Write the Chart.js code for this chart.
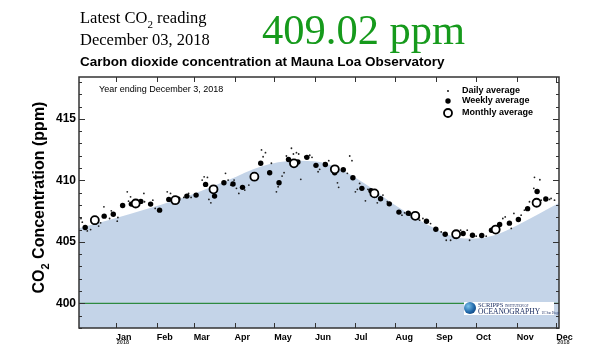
<!DOCTYPE html>
<html>
<head>
<meta charset="utf-8">
<script src="https://cdn.jsdelivr.net/npm/chart.js@4.4.1/dist/chart.umd.min.js"></script>
<style>
  html, body { margin: 0; padding: 0; background: #fff; }
  #wrap { position: relative; width: 600px; height: 360px; overflow: hidden; }
  #chart { position: absolute; left: 0; top: 0; }
  .serif { position: absolute; font-family: "Liberation Serif", "Times New Roman", serif; color: #000; white-space: nowrap; line-height: 1; }
  .serif sub { font-size: 11px; vertical-align: -5px; line-height: 0; }
  #latest { left: 80px; top: 10px; font-size: 16.5px; }
  #date { left: 80px; top: 32px; font-size: 16.5px; }
  #reading { left: 262px; top: 9px; font-size: 42.5px; color: #169a1c; }
  #title { position: absolute; left: 80px; top: 55px; font: bold 13.5px "Liberation Sans", Arial, sans-serif; line-height: 1; white-space: nowrap; }
  #logo { position: absolute; left: 464px; top: 302px; width: 90px; height: 13px; background: #fff; font-family: "Liberation Serif", serif; color: #1d2f63; white-space: nowrap; }
  #logo .globe { position: absolute; left: 0; top: 0; width: 12px; height: 12px; border-radius: 50%;
    background: radial-gradient(circle at 35% 35%, #7cc3ec, #1f66a8 55%, #0d2c5c); }
  #logo .l1 { position: absolute; left: 14px; top: 0px; font-size: 6.5px; line-height: 6px; }
  #logo .l2 { position: absolute; left: 14px; top: 6px; font-size: 7.5px; line-height: 7px; }
  #logo .tiny { font-size: 3px; }
</style>
</head>
<body>
<div id="wrap">
  <canvas id="chart" width="600" height="360"></canvas>
  <div class="serif" id="latest">Latest CO<sub>2</sub> reading</div>
  <div class="serif" id="date">December 03, 2018</div>
  <div class="serif" id="reading">409.02 ppm</div>
  <div id="title">Carbon dioxide concentration at Mauna Loa Observatory</div>
  <div id="logo">
    <div class="globe"></div>
    <div class="l1">SCRIPPS <span class="tiny">INSTITUTION OF</span></div>
    <div class="l2">OCEANOGRAPHY <span class="tiny">UC San Diego</span></div>
  </div>
</div>
<script>
// x values are days since Jan 1, 2018
const tickDays = [0, 31, 59, 90, 120, 151, 181, 212, 243, 273, 304, 334];
const monthLabels = ['Jan', 'Feb', 'Mar', 'Apr', 'May', 'Jun', 'Jul', 'Aug', 'Sep', 'Oct', 'Nov', 'Dec'];
const yearLabelDays = [0, 334];
const yTicks = [400, 405, 410, 415];
const baseline = 400;

const monthDays = [-16, 15, 45, 74, 105, 135, 166, 196, 227, 258, 288, 319];
const monthlyPpm = [406.76, 408.12, 408.39, 409.27, 410.30, 411.38, 410.90, 408.94, 407.12, 405.62, 406.00, 408.18];

const weekDays = [-23.3, -16.0, -8.9, -2.0, 5.1, 11.7, 18.9, 26.3, 33.1, 40.1, 47.0, 53.8, 60.8,
  68.0, 74.8, 81.9, 88.8, 96.0, 103.8, 109.8, 116.6, 123.7, 130.9, 138.0, 144.8, 151.7, 158.8,
  165.9, 172.4, 179.7, 186.5, 193.4, 200.7, 207.3, 214.6, 221.7, 228.3, 235.5, 242.6, 249.7,
  257.5, 263.3, 270.4, 277.4, 284.8, 291.0, 298.4, 305.2, 312.2, 319.4, 326.0];
const weeklyPpm = [406.17, 406.60, 407.09, 407.25, 407.96, 408.07, 408.29, 408.07, 407.58, 408.45, 408.48, 408.72, 408.80,
  409.67, 408.72, 409.80, 409.70, 409.43, 410.29, 411.39, 410.62, 409.80, 411.69, 411.49, 411.87, 411.22, 411.29,
  410.62, 410.86, 410.21, 409.35, 409.15, 408.50, 408.09, 407.42, 407.33, 407.01, 406.68, 406.03, 405.62,
  405.46, 405.68, 405.54, 405.52, 405.95, 406.41, 406.52, 406.82, 407.70, 409.10, 408.48];

// [day, ppm]
const dailyPoints = [
  [-26.5, 406.9], [-25.5, 406.6], [-21.7, 405.89], [-19.2, 406.0], [-13.1, 406.28], [-11.6, 406.55],
  [-9.1, 407.85], [-4.8, 406.9], [-3.5, 407.52], [1.0, 406.68], [1.5, 406.98], [4.5, 408.01],
  [8.6, 409.07], [9.6, 408.31], [11.1, 408.66], [16.1, 407.96], [21.2, 408.94], [21.7, 408.26],
  [28.0, 408.39], [29.8, 407.72], [38.9, 409.07], [41.4, 408.94], [43.2, 408.12], [51.5, 408.61],
  [55.1, 408.94], [57.0, 408.61], [65.4, 410.02], [66.9, 410.29], [69.4, 410.24], [70.5, 408.45],
  [72.0, 408.17], [83.1, 410.57], [85.1, 410.02], [87.1, 409.62], [89.6, 410.02], [91.4, 409.35],
  [93.2, 408.94], [97.7, 409.21], [100.8, 409.62], [110.4, 412.47], [111.6, 411.92], [113.4, 412.25],
  [117.9, 411.39], [121.7, 409.07], [123.0, 409.48], [126.0, 410.35], [127.5, 410.62], [129.3, 411.98],
  [133.1, 412.61], [134.6, 412.14], [136.9, 412.25], [138.6, 412.14], [140.2, 410.08], [143.2, 411.92],
  [147.0, 412.04], [148.7, 411.87], [153.3, 410.70], [154.5, 410.90], [157.8, 411.39], [161.4, 411.60],
  [168.0, 409.80], [168.9, 409.43], [175.5, 410.57], [177.3, 411.98], [179.0, 411.60], [181.6, 409.07],
  [183.1, 409.27], [184.8, 409.75], [189.2, 408.34], [191.1, 409.27], [197.4, 408.66], [198.2, 408.17],
  [202.5, 408.80], [205.8, 408.26], [216.9, 407.17], [218.9, 407.36], [222.7, 407.17], [230.3, 406.76],
  [232.8, 406.90], [238.6, 406.49], [242.2, 406.09], [246.7, 405.81], [250.5, 405.13], [253.8, 405.13],
  [261.4, 405.95], [266.4, 405.95], [268.2, 405.13], [273.2, 405.46], [280.8, 405.46], [284.1, 405.95],
  [290.8, 406.49], [293.4, 406.90], [295.2, 407.03], [299.8, 406.09], [301.8, 407.31], [307.3, 407.17],
  [309.8, 407.58], [313.6, 408.26], [316.9, 409.35], [317.4, 410.25], [321.5, 410.05], [322.5, 408.39],
  [328.8, 408.45], [330.0, 408.53], [332.6, 408.39]
];

// smooth seasonal curve under the points
const curveDays = [-28, -4.5, 25.8, 59.8, 84.8, 110.6, 135.6, 154.5, 165.9, 188.6, 213.6, 241.6, 256.8, 271.9, 287.1, 304.5, 336];
const curvePpm = [406.1, 406.8, 407.75, 408.94, 410.0, 411.15, 411.6, 411.5, 411.1, 409.75, 407.85, 406.1, 405.4, 405.27, 405.54, 406.36, 408.15];

const xMin = -28, xMax = 336, yMin = 398, yMax = 418.4;

const sans = '"Liberation Sans", Arial, sans-serif';

const decorations = {
  id: 'decorations',
  afterDatasetsDraw(chart) {
    const { ctx, chartArea: a, scales: { x, y } } = chart;
    const line = (x1, y1, x2, y2) => { ctx.beginPath(); ctx.moveTo(x1, y1); ctx.lineTo(x2, y2); ctx.stroke(); };
    ctx.save();

    // ticks on all four sides, pointing inward
    ctx.strokeStyle = '#333';
    ctx.lineWidth = 1;
    for (let v = Math.ceil(yMin); v <= yMax; v++) {
      const py = Math.round(y.getPixelForValue(v)) + 0.5;
      const len = v % 5 === 0 ? 6 : 3;
      line(a.left, py, a.left + len, py);
      line(a.right, py, a.right - len, py);
    }
    tickDays.forEach(d => {
      const px = Math.round(x.getPixelForValue(d)) + 0.5;
      line(px, a.bottom, px, a.bottom - 5);
      line(px, a.top, px, a.top + 5);
    });
    ctx.lineWidth = 1.5;
    ctx.strokeRect(a.left, a.top, a.right - a.left, a.bottom - a.top);

    // small year under first and last month
    ctx.fillStyle = '#333';
    ctx.font = 'bold 5.5px ' + sans;
    ctx.textAlign = 'center';
    ctx.textBaseline = 'middle';
    yearLabelDays.forEach(d => ctx.fillText('2018', x.getPixelForValue(d) + 7, a.bottom + 14.5));

    // y axis title with subscript
    ctx.fillStyle = '#000';
    ctx.translate(44, 197.5);
    ctx.rotate(-Math.PI / 2);
    ctx.textAlign = 'left';
    ctx.textBaseline = 'alphabetic';
    const big = 'bold 16px ' + sans, small = 'bold 11px ' + sans;
    ctx.font = big;
    const w1 = ctx.measureText('CO').width, w3 = ctx.measureText(' Concentration (ppm)').width;
    ctx.font = small;
    const w2 = ctx.measureText('2').width;
    let cx = -(w1 + w2 + w3) / 2;
    ctx.font = big; ctx.fillText('CO', cx, 0); cx += w1;
    ctx.font = small; ctx.fillText('2', cx, 5); cx += w2;
    ctx.font = big; ctx.fillText(' Concentration (ppm)', cx, 0);
    ctx.setTransform(1, 0, 0, 1, 0, 0);

    // period note
    ctx.font = '9px ' + sans;
    ctx.textBaseline = 'middle';
    ctx.fillText('Year ending December 3, 2018', 99, 90);

    // legend
    ctx.font = 'bold 9px ' + sans;
    ctx.fillText('Daily average', 462, 91);
    ctx.fillText('Weekly average', 462, 101);
    ctx.fillText('Monthly average', 462, 113);
    ctx.beginPath(); ctx.arc(448, 91, 0.9, 0, Math.PI * 2); ctx.fill();
    ctx.beginPath(); ctx.arc(448, 101, 2.7, 0, Math.PI * 2); ctx.fill();
    ctx.beginPath(); ctx.arc(448, 113, 4, 0, Math.PI * 2);
    ctx.fillStyle = '#fff'; ctx.fill();
    ctx.lineWidth = 1.8; ctx.strokeStyle = '#000'; ctx.stroke();

    ctx.restore();
  }
};

new Chart(document.getElementById('chart'), {
  type: 'scatter',
  data: {
    datasets: [
      {
        type: 'line',
        data: curveDays.map((d, i) => ({ x: d, y: curvePpm[i] })),
        fill: 'start',
        backgroundColor: '#c4d4e8',
        borderWidth: 0,
        pointRadius: 0,
        cubicInterpolationMode: 'monotone',
        order: 5
      },
      {
        type: 'line',
        data: [{ x: xMin, y: baseline }, { x: xMax, y: baseline }],
        borderColor: '#2e8a40',
        borderWidth: 1.2,
        pointRadius: 0,
        fill: false,
        order: 4
      },
      {
        data: dailyPoints.map(p => ({ x: p[0], y: p[1] })),
        pointRadius: 0.9,
        backgroundColor: '#222',
        borderWidth: 0,
        order: 3
      },
      {
        data: weekDays.map((d, i) => ({ x: d, y: weeklyPpm[i] })),
        pointRadius: 2.7,
        backgroundColor: '#000',
        borderWidth: 0,
        order: 2
      },
      {
        data: monthDays.map((d, i) => ({ x: d, y: monthlyPpm[i] })),
        pointRadius: 4,
        backgroundColor: '#fff',
        borderColor: '#000',
        borderWidth: 1.8,
        order: 1
      }
    ]
  },
  options: {
    responsive: false,
    animation: false,
    events: [],
    layout: { padding: { top: 77, right: 41, left: 0, bottom: 0 } },
    plugins: { legend: { display: false }, tooltip: { enabled: false } },
    scales: {
      x: {
        type: 'linear',
        min: xMin,
        max: xMax,
        grid: { display: false, drawTicks: false },
        border: { display: false },
        afterFit: s => { s.height = 32; },
        afterBuildTicks: s => { s.ticks = tickDays.map(v => ({ value: v })); },
        ticks: {
          align: 'start',
          autoSkip: false,
          maxRotation: 0,
          padding: 4,
          color: '#000',
          font: { family: sans, weight: 'bold', size: 9 },
          callback: (v, i) => monthLabels[i]
        }
      },
      y: {
        min: yMin,
        max: yMax,
        grid: { display: false, drawTicks: false },
        border: { display: false },
        afterFit: s => { s.width = 79; },
        afterBuildTicks: s => { s.ticks = yTicks.map(v => ({ value: v })); },
        ticks: {
          padding: 3,
          color: '#000',
          font: { family: sans, weight: 'bold', size: 12 }
        }
      }
    }
  },
  plugins: [decorations]
});
</script>
</body>
</html>
